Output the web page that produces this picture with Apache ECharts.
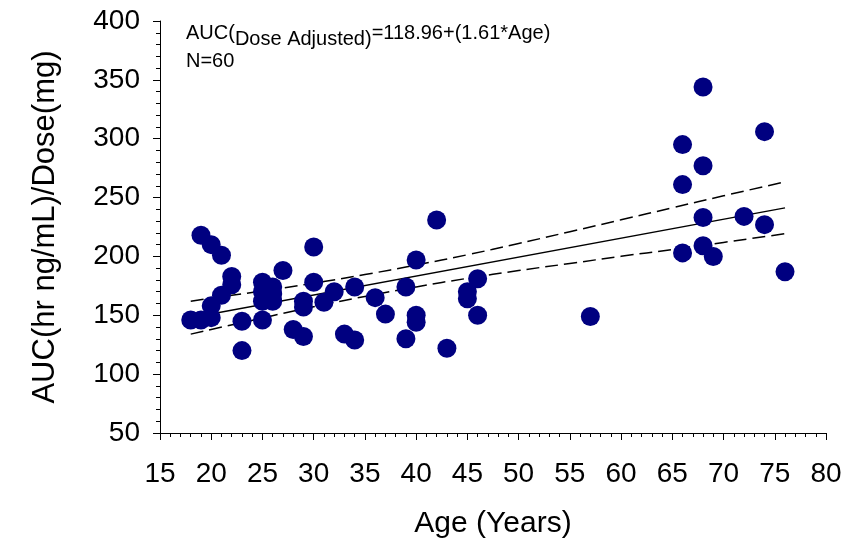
<!DOCTYPE html>
<html>
<head>
<meta charset="utf-8">
<title>AUC vs Age</title>
<script src="https://cdn.jsdelivr.net/npm/echarts@6/dist/echarts.min.js"></script>
<style>
html, body { margin: 0; padding: 0; background: #fff; }
#main { width: 859px; height: 544px; }
</style>
</head>
<body>
<div id="main"></div>
<script>
// 观测值 (年龄, 剂量校正后的 AUC)
var ages = [18, 19, 20, 20, 21, 22, 22, 19, 20, 21, 23, 23,
	25, 25, 25, 25, 26, 26, 26, 27, 28, 29, 29, 29, 30, 30, 31, 32, 33,
	34, 34, 36, 37, 39, 39, 40, 40, 40, 42, 43, 45, 45, 46, 46, 57,
	66, 66, 66, 68, 68, 68, 68, 69, 72, 74, 74, 76];
var aucs = [146, 146, 148, 158, 167, 176, 183, 218, 210, 201, 145, 120,
	178, 170, 162, 146, 174, 168, 162, 188, 138, 132, 157, 162, 208, 178, 161, 170, 134,
	129, 174, 165, 151, 174, 130, 197, 150, 144, 231, 122, 170, 164, 181, 150, 149,
	295, 261, 203, 344, 277, 233, 209, 200, 234, 306, 227, 187];

// 回归线 AUC = 118.96 + 1.61*Age 的两个端点
var fitAges = [18, 76];
var fitVals = [147.9, 241.3];

// 置信带
var bandAges = [18, 25, 30, 35, 40, 45, 50, 55, 60, 65, 70, 76];
var bandUpper = [162, 170.7, 177.3, 184.6, 192.7, 201.4, 211, 221, 231.1, 241.3, 251.5, 263.3];
var bandLower = [134, 147.7, 157.3, 166, 174.1, 181.4, 188, 194, 200.1, 205.9, 211.9, 219.3];

function pairs(xs, ys) {
	var out = [];
	for (var i = 0; i < xs.length; i++) {
		out.push([xs[i], ys[i]]);
	}
	return out;
}

var FONT = 'Liberation Sans, Arial, sans-serif';

var myChart = echarts.init(document.getElementById('main'), null, { renderer: 'canvas' });

var option = {
	backgroundColor: '#fff',
	animation: false,
	textStyle: { fontFamily: FONT, color: '#000' },
	title: {
		left: 181,
		top: 18,
		text: '{n|AUC(}{s|Dose Adjusted)}{n|=118.96+(1.61*Age)}\n{m|N=60}',
		textStyle: {
			fontWeight: 'normal',
			rich: {
				n: { fontFamily: FONT, fontSize: 20, fontWeight: 'normal', color: '#000', lineHeight: 22, verticalAlign: 'top' },
				s: { fontFamily: FONT, fontSize: 20, fontWeight: 'normal', color: '#000', lineHeight: 22, verticalAlign: 'top', padding: [6, 0, 0, 0] },
				m: { fontFamily: FONT, fontSize: 20, fontWeight: 'normal', color: '#000', lineHeight: 32 }
			}
		}
	},
	grid: { left: 160, right: 33, top: 21, bottom: 110, containLabel: false },
	xAxis: {
		type: 'value',
		min: 15,
		max: 80,
		interval: 5,
		name: 'Age (Years)',
		nameLocation: 'middle',
		nameGap: 76,
		nameTextStyle: { fontFamily: FONT, fontSize: 30, color: '#000' },
		axisLine: { lineStyle: { color: '#000', width: 1 } },
		axisTick: { inside: false, length: 7, lineStyle: { color: '#000' } },
		minorTick: { show: true, splitNumber: 5, length: 4, lineStyle: { color: '#000' } },
		axisLabel: { fontFamily: FONT, fontSize: 28, color: '#000', margin: 27 },
		splitLine: { show: false }
	},
	yAxis: {
		type: 'value',
		min: 50,
		max: 400,
		interval: 50,
		name: 'AUC(hr ng/mL)/Dose(mg)',
		nameLocation: 'middle',
		nameGap: 99,
		nameTextStyle: { fontFamily: FONT, fontSize: 31, color: '#000' },
		axisLine: { show: true, lineStyle: { color: '#000', width: 1 } },
		axisTick: { show: true, inside: false, length: 7, lineStyle: { color: '#000' } },
		minorTick: { show: true, splitNumber: 5, length: 4, lineStyle: { color: '#000' } },
		axisLabel: { fontFamily: FONT, fontSize: 28, color: '#000', margin: 20 },
		splitLine: { show: false }
	},
	series: [ {
		name: 'upper',
		type: 'line',
		data: pairs(bandAges, bandUpper),
		showSymbol: false,
		smooth: true,
		silent: true,
		lineStyle: { color: '#000', width: 1.5, type: [13, 6] },
		z: 1
	}, {
		name: 'lower',
		type: 'line',
		data: pairs(bandAges, bandLower),
		showSymbol: false,
		smooth: true,
		silent: true,
		lineStyle: { color: '#000', width: 1.5, type: [13, 6] },
		z: 1
	}, {
		name: 'fit',
		type: 'line',
		data: pairs(fitAges, fitVals),
		showSymbol: false,
		silent: true,
		lineStyle: { color: '#000', width: 1.3 },
		z: 1
	}, {
		name: 'AUC',
		type: 'scatter',
		data: pairs(ages, aucs),
		symbol: 'circle',
		symbolSize: 19,
		itemStyle: { color: '#000080', opacity: 1 },
		z: 3
	} ]
};

myChart.setOption(option);
</script>
</body>
</html>
